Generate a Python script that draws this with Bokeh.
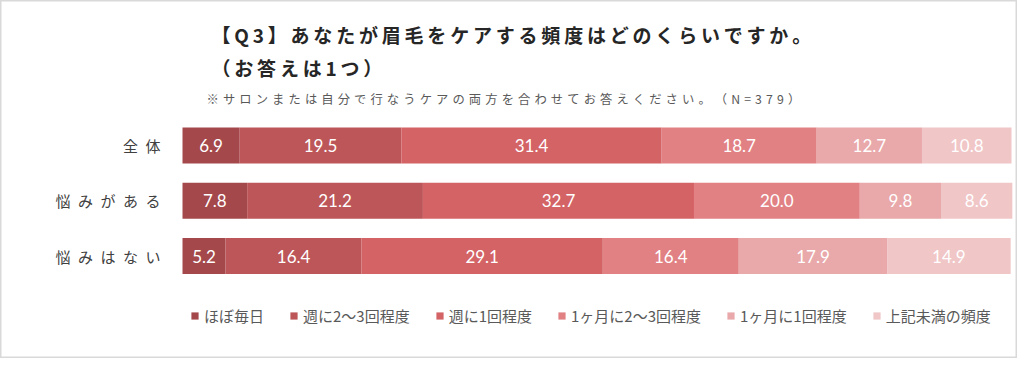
from bokeh.plotting import figure
from bokeh.models import ColumnDataSource, Range1d, Label, Legend, LegendItem
from bokeh.core.properties import value
from bokeh.embed import file_html
from bokeh.resources import INLINE

# ---- data ----
categories = ["全体", "悩みがある", "悩みはない"]
series = ["ほぼ毎日", "週に2～3回程度", "週に1回程度", "1ヶ月に2～3回程度", "1ヶ月に1回程度", "上記未満の頻度"]
v_daily = [6.9, 7.8, 5.2]
v_week_2_3 = [19.5, 21.2, 16.4]
v_week_1 = [31.4, 32.7, 29.1]
v_month_2_3 = [18.7, 20.0, 16.4]
v_month_1 = [12.7, 9.8, 17.9]
v_less = [10.8, 8.6, 14.9]
colors = ["#A4484B", "#BD5658", "#D46366", "#E18184", "#E9A8AA", "#F0C6C7"]

title_line1 = "【Q3】あなたが眉毛をケアする頻度はどのくらいですか。"
title_line2 = "（お答えは1つ）"
subtitle = "※サロンまたは自分で行なうケアの両方を合わせてお答えください。（N=379）"

W, H = 1017, 358
JP = "Noto Sans CJK JP"

values = [v_daily, v_week_2_3, v_week_1, v_month_2_3, v_month_1, v_less]
keys = [f"s{i}" for i in range(len(values))]
data = {"cat": categories, "row": list(range(len(categories)))}
for k, v in zip(keys, values):
    data[k] = v
source = ColumnDataSource(data)

# layout: bars from x=182px to 1011px, rows centred at 145px with 55.25px pitch
px_per_pct = (1011 - 182) / 100.0
px_per_row = 55.25
x_range = Range1d(-182 / px_per_pct, 100 + (W - 1011) / px_per_pct)
y_range = Range1d((H - 145) / px_per_row, -145 / px_per_row)

p = figure(width=W, height=H, x_range=x_range, y_range=y_range,
           output_backend="svg", toolbar_location=None,
           x_axis_location=None, y_axis_location=None,
           min_border_left=0, min_border_right=0, min_border_top=0, min_border_bottom=0)
p.xgrid.grid_line_color = None
p.ygrid.grid_line_color = None
p.outline_line_color = "#D9D9D9"
p.outline_line_width = 2
p.background_fill_color = "white"
p.border_fill_color = "white"

renderers = p.hbar_stack(stackers=keys, y="row", height=36 / px_per_row, source=source,
                         fill_color=colors, line_color=None)

# value labels
lx, ly, lt = [], [], []
for j in range(len(categories)):
    left = 0.0
    for s in values:
        v = s[j]
        lx.append(left + v / 2)
        ly.append(j)
        lt.append(f"{v:.1f}")
        left += v
p.text(x="x", y="y", text="t", source=ColumnDataSource(dict(x=lx, y=ly, t=lt)),
       text_align="center", text_baseline="middle", text_color="white",
       text_font=value("Lato"), text_font_size="17px")

# category labels (letter-spaced)
p.text(x=[0] * len(categories), y=list(range(len(categories))),
       text=["\u2002".join(c) for c in categories], x_offset=-22,
       text_align="right", text_baseline="middle", text_color="#404040",
       text_font=value(JP), text_font_size="15px")

# titles (screen units measured from bottom-left)
p.add_layout(Label(x=211, y=H - 34, x_units="screen", y_units="screen",
                   text="\u2009".join(title_line1), text_font=JP, text_font_size="19px",
                   text_font_style="bold", text_baseline="middle", text_color="#262626"))
p.add_layout(Label(x=211, y=H - 67, x_units="screen", y_units="screen",
                   text="\u2009".join(title_line2), text_font=JP, text_font_size="19px",
                   text_font_style="bold", text_baseline="middle", text_color="#262626"))
p.add_layout(Label(x=206, y=H - 98, x_units="screen", y_units="screen",
                   text="\u2004".join(subtitle), text_font=JP, text_font_size="12.3px",
                   text_baseline="middle", text_color="#595959"))

legend = Legend(items=[LegendItem(label=s, renderers=[r]) for s, r in zip(series, renderers)],
                orientation="horizontal", location=(190, H - 326), padding=0, margin=0, spacing=25,
                glyph_width=9, glyph_height=9, label_standoff=5, label_height=16,
                label_text_font=JP, label_text_font_size="15px", label_text_color="#595959",
                border_line_color=None, background_fill_alpha=0)
p.add_layout(legend, "center")

open("out.html", "w").write(file_html(p, INLINE))
